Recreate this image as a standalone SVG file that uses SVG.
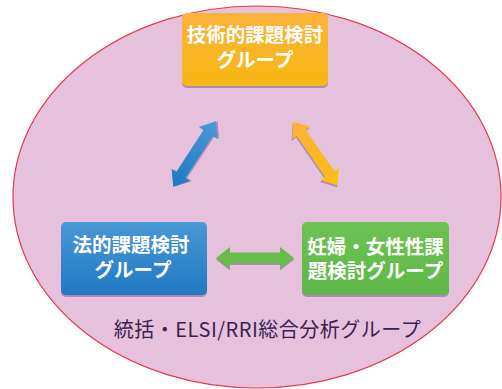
<svg xmlns="http://www.w3.org/2000/svg" width="502" height="389" viewBox="0 0 502 389">
<style>
.box-text{font-family:"Noto Sans CJK JP","Noto Sans",sans-serif;font-size:19.5px;font-weight:bold;fill:#ffffff;text-anchor:middle}
.label{font-family:"Noto Sans CJK JP","Noto Sans",sans-serif;font-size:20px;letter-spacing:0.5px;fill:#3a2350;text-anchor:middle}
.shadow{fill:#9a6fa8;opacity:0.7}
</style>
<defs>
<linearGradient id="gOrange" x1="0" y1="0" x2="0" y2="1">
<stop offset="0" stop-color="#fbb23a"/><stop offset="1" stop-color="#f6b814"/>
</linearGradient>
<linearGradient id="gBlue" x1="0" y1="0" x2="0" y2="1">
<stop offset="0" stop-color="#4a98d6"/><stop offset="1" stop-color="#1f79c2"/>
</linearGradient>
<linearGradient id="gGreen" x1="0" y1="0" x2="0" y2="1">
<stop offset="0" stop-color="#6cc253"/><stop offset="1" stop-color="#5fb848"/>
</linearGradient>
<linearGradient id="aBlue" x1="1" y1="0" x2="0" y2="0">
<stop offset="0" stop-color="#4a98d6"/><stop offset="1" stop-color="#1f78c1"/>
</linearGradient>
<linearGradient id="aOrange" x1="0" y1="0" x2="1" y2="0">
<stop offset="0" stop-color="#fbb23a"/><stop offset="1" stop-color="#fcbe12"/>
</linearGradient>
<polygon id="dbl" points="-39,0 -25,-11 -25,-5.5 25,-5.5 25,-11 39,0 25,11 25,5.5 -25,5.5 -25,11"/>
</defs>
<ellipse cx="257" cy="197" rx="244" ry="191" fill="#e6c1dc" stroke="#e5394f" stroke-width="1.2"/>
<g id="connectors">
<g transform="translate(194.5,154) rotate(-56.9)">
<use href="#dbl" transform="translate(1,1.5)" class="shadow"/>
<use href="#dbl" fill="url(#aBlue)"/>
</g>
<g transform="translate(315.5,153.5) rotate(55.3)">
<use href="#dbl" transform="translate(1,1.5)" class="shadow"/>
<use href="#dbl" fill="url(#aOrange)"/>
</g>
<g transform="translate(255,258)">
<use href="#dbl" transform="translate(0,1.5)" class="shadow"/>
<use href="#dbl" fill="#66bd4c"/>
</g>
</g>
<g id="node-tech">
<rect x="182" y="15" width="146" height="73" rx="5" class="shadow"/>
<rect x="182" y="13" width="146" height="73" rx="5" fill="url(#gOrange)"/>
<text class="box-text"><tspan x="255" y="42">技術的課題検討</tspan><tspan x="255" y="67">グループ</tspan></text>
</g>
<g id="node-legal">
<rect x="61" y="224" width="146" height="73" rx="5" class="shadow"/>
<rect x="61" y="222" width="146" height="73" rx="5" fill="url(#gBlue)"/>
<text class="box-text"><tspan x="131" y="252">法的課題検討</tspan><tspan x="133" y="277">グループ</tspan></text>
</g>
<g id="node-women">
<rect x="302" y="224" width="147" height="73" rx="5" class="shadow"/>
<rect x="302" y="222" width="147" height="73" rx="5" fill="url(#gGreen)"/>
<text class="box-text"><tspan x="375.5" y="254">妊婦・女性性課</tspan><tspan x="375.5" y="278">題検討グループ</tspan></text>
</g>
<g id="node-elsi">
<text class="label" x="267.5" y="337">統括・ELSI/RRI総合分析グループ</text>
</g>
</svg>
